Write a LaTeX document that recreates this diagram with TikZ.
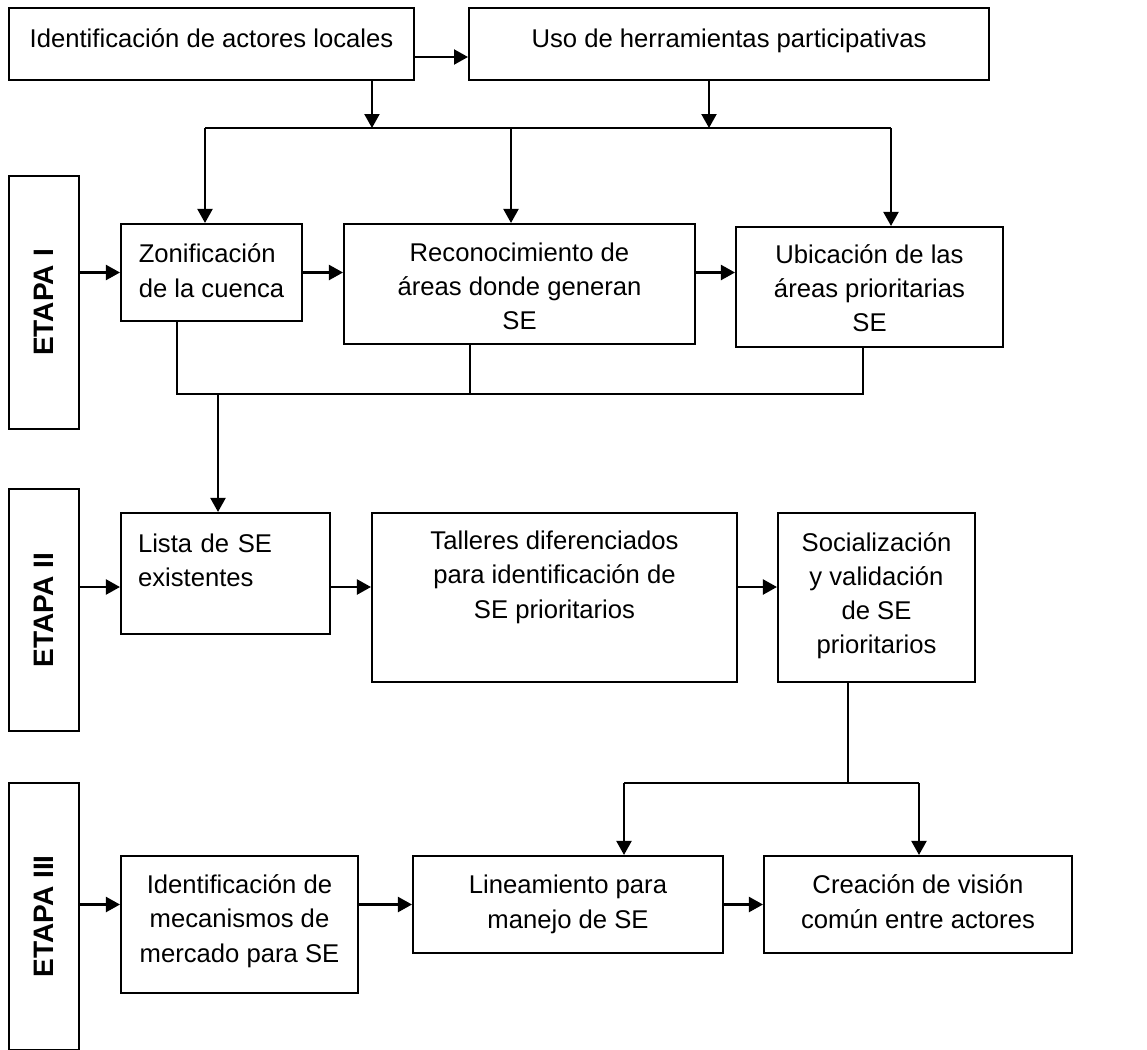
\documentclass[tikz,border=0pt]{standalone}
\usepackage{fontspec}
\setmainfont{Liberation Sans}
\usetikzlibrary{arrows.meta,positioning,calc}

\begin{document}
\begin{tikzpicture}[
    x=0.02cm, y=-0.02cm,
    font=\fontsize{14.6}{19.4}\selectfont,
    box/.style={rectangle, draw=black, fill=white, line width=1.2pt, align=center, inner sep=0pt},
    leftbox/.style={box, align=left, inner xsep=0.34cm, text width=#1},
    stage/.style={rectangle, draw=black, line width=1.2pt, minimum width=1.4cm, inner sep=0pt, font=\fontsize{16}{19.4}\selectfont\bfseries},
    line/.style={line width=1.2pt, color=black},
    arrow/.style={-{Triangle[length=0.28cm, width=0.3cm]}, line width=1.2pt, color=black}
]
\useasboundingbox (0,0) rectangle (1147,1049);

% === TOP ===
\node[box, minimum width=8.10cm, minimum height=1.44cm, text height=0.12cm, text depth=0cm] (actores) at (211.5,44) {Identificación de actores locales};
\node[box, minimum width=10.40cm, minimum height=1.44cm, text height=0.12cm, text depth=0cm] (uso) at (729,44) {Uso de herramientas participativas};

% === ETAPA I ===
\node[stage, minimum height=5.06cm] (etapa1) at (44,302.5) {\rotatebox{90}{ETAPA I}};
\node[box, align=left, minimum width=3.62cm, minimum height=1.94cm, text height=0.98cm, text depth=0cm] (zon) at (211.5,272.5) {Zonificación\\de la cuenca};
\node[box, minimum width=7.02cm, minimum height=2.40cm, text height=1.84cm, text depth=0cm] (rec) at (519.5,284) {Reconocimiento de\\áreas donde generan\\SE};
\node[box, minimum width=5.34cm, minimum height=2.40cm, text height=1.80cm, text depth=0cm] (ubi) at (869.5,287) {Ubicación de las\\áreas prioritarias\\SE};

% === ETAPA II ===
\node[stage, minimum height=4.84cm] (etapa2) at (44,610) {\rotatebox{90}{ETAPA II}};
\node[leftbox=3.50cm, minimum height=2.42cm, text height=0cm, text depth=0.86cm] (lista) at (225.5,573.5) {Lista de SE\\existentes};
\node[box, minimum width=7.30cm, minimum height=3.38cm, text height=0.82cm, text depth=0cm] (talleres) at (554.5,597.5) {Talleres diferenciados\\para identificación de\\SE prioritarios};
\node[box, minimum width=3.94cm, minimum height=3.38cm, text height=2.26cm, text depth=0cm] (soc) at (876.5,597.5) {Socialización\\y validación\\de SE\\prioritarios};

% === ETAPA III ===
\node[stage, minimum height=5.34cm] (etapa3) at (44,916.5) {\rotatebox{90}{ETAPA III}};
\node[box, minimum width=4.74cm, minimum height=2.74cm, text height=1.50cm, text depth=0cm] (mercado) at (239.5,924.5) {Identificación de\\mecanismos de\\mercado para SE};
\node[box, minimum width=6.20cm, minimum height=1.94cm, text height=0.94cm, text depth=0cm] (lin) at (568,904.5) {Lineamiento para\\manejo de SE};
\node[box, minimum width=6.16cm, minimum height=1.94cm, text height=0.94cm, text depth=0cm] (cre) at (918,904.5) {Creación de visión\\común entre actores};

% === JUNCTIONS ===
\coordinate (busL) at (205,128);
\coordinate (busM) at (511,128);
\coordinate (busR) at (891,128);
\coordinate (joinL) at (177,394);
\coordinate (joinR) at (863,394);
\coordinate (drop) at (218,394);
\coordinate (row2) at (0,587);
\coordinate (splitL) at (624,783);
\coordinate (splitR) at (919,783);

% === CONNECTIONS ===
% top flow
\draw[arrow] ([yshift=-0.26cm]actores.east) -- ([yshift=-0.26cm]uso.west);
\draw[arrow] ([xshift=3.21cm]actores.south) -- ([xshift=3.21cm]actores.south |- busL);
\draw[arrow] ([xshift=-0.4cm]uso.south) -- ([xshift=-0.4cm]uso.south |- busR);
\draw[line] (busL) -- (busR);
\draw[arrow] (busL) -- (busL |- zon.north);
\draw[arrow] (busM) -- (busM |- rec.north);
\draw[arrow] (busR) -- (busR |- ubi.north);

% etapa I
\draw[arrow] (zon.west -| etapa1.east) -- (zon.west);
\draw[arrow] (zon.east) -- (zon.east -| rec.west);
\draw[arrow] (zon.east -| rec.east) -- (zon.east -| ubi.west);
\draw[line] (zon.south -| joinL) -- (joinL) -- (joinR) -- (joinR |- ubi.south);
\draw[line] ([xshift=-0.99cm]rec.south) -- ([xshift=-0.99cm]rec.south |- joinL);
\draw[arrow] (drop) -- (drop |- lista.north);

% etapa II
\draw[arrow] (row2 -| etapa2.east) -- (row2 -| lista.west);
\draw[arrow] (row2 -| lista.east) -- (row2 -| talleres.west);
\draw[arrow] (row2 -| talleres.east) -- (row2 -| soc.west);
\draw[line] ([xshift=-0.57cm]soc.south) -- ([xshift=-0.57cm]soc.south |- splitL);
\draw[line] (splitL) -- (splitR);
\draw[arrow] (splitL) -- (splitL |- lin.north);
\draw[arrow] (splitR) -- (splitR |- cre.north);

% etapa III
\draw[arrow] (lin.west -| etapa3.east) -- (lin.west -| mercado.west);
\draw[arrow] (lin.west -| mercado.east) -- (lin.west);
\draw[arrow] (lin.east) -- (cre.west);

\end{tikzpicture}
\end{document}
